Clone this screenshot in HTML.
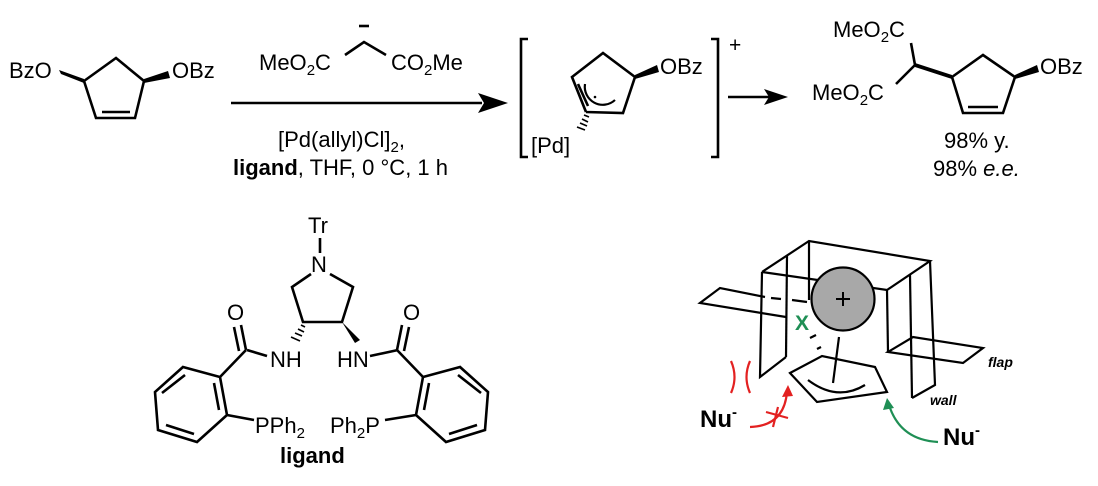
<!DOCTYPE html>
<html><head><meta charset="utf-8"><style>
html,body{margin:0;padding:0;background:#fff}
svg{display:block}
text{font-family:"Liberation Sans",Arial,sans-serif;fill:#000}
</style></head><body>
<svg width="1098" height="486" viewBox="0 0 1098 486" xmlns="http://www.w3.org/2000/svg">
<g stroke="#000" stroke-width="2.6" fill="none" stroke-linejoin="miter" stroke-linecap="butt">
<polyline points="84,81 116,58 144,81 135,118 96,118 84,81"/>
<line x1="102" y1="112" x2="130" y2="112"/>
<line x1="231" y1="103" x2="482" y2="103"/>
<polyline points="345,55 364,42 386,55"/>
<line x1="359" y1="26" x2="369" y2="26"/>
<polyline points="528,39 521,39 521,157 528,157"/>
<polyline points="711,39 718,39 718,157 711,157"/>
<polyline points="586,112 572,77 603,53 635,77 623,113 586,112"/>
<line x1="578" y1="84" x2="588" y2="106"/>
<path d="M585,84 A18,18 0 0 0 615,100" stroke-width="2.2"/>
<line x1="728" y1="97" x2="770" y2="97"/>
<line x1="911" y1="43" x2="915" y2="65"/>
<line x1="915" y1="65" x2="896" y2="84"/>
<polyline points="952,77 983,55 1015,77 1003,113 963,113 952,77"/>
<line x1="968" y1="107" x2="998" y2="107"/>
<line x1="320" y1="238" x2="320" y2="253"/>
<polyline points="311,274 292,287 303,322 342,322 353,287 330,274"/>
<line x1="247" y1="350" x2="267" y2="356"/>
<line x1="370" y1="356" x2="398" y2="350"/>
<line x1="246" y1="350" x2="241" y2="325"/>
<line x1="239" y1="351" x2="234" y2="327"/>
<line x1="220" y1="377" x2="246" y2="350"/>
<polygon points="183,367 220,377 227,415 197,442 158,430 155,392"/>
<line x1="162" y1="393" x2="185" y2="375"/>
<line x1="214" y1="383" x2="219" y2="410"/>
<line x1="166" y1="425" x2="194" y2="434"/>
<line x1="227" y1="415" x2="254" y2="420"/>
<g transform="translate(643,0) scale(-1,1)">
<line x1="246" y1="350" x2="241" y2="325"/>
<line x1="239" y1="351" x2="234" y2="327"/>
<line x1="220" y1="377" x2="246" y2="350"/>
<polygon points="183,367 220,377 227,415 197,442 158,430 155,392"/>
<line x1="162" y1="393" x2="185" y2="375"/>
<line x1="214" y1="383" x2="219" y2="410"/>
<line x1="166" y1="425" x2="194" y2="434"/>
<line x1="227" y1="415" x2="258" y2="420"/>
</g>
<g stroke-width="2.2">
<polyline points="762,272 809,241 930,261 887,290 762,272"/>
<polyline points="762,272 760,377 786,357"/>
<line x1="787" y1="256" x2="786" y2="357"/>
<line x1="809" y1="241" x2="809" y2="300"/>
<polyline points="765,297 720,288 700,303 786,317"/>
<line x1="771" y1="298" x2="781" y2="299"/>
<line x1="792" y1="300" x2="807" y2="302"/>
<line x1="887" y1="290" x2="888" y2="352"/>
<line x1="910" y1="275" x2="912" y2="398"/>
<polyline points="930,261 935,385 912,398"/>
<polygon points="888,352 913,337 983,348 963,363"/>
<line x1="839" y1="337" x2="833" y2="383"/>
<polygon points="790,373 822,356 875,367 887,392 817,402"/>
<path d="M808,380 Q837,402 865,385"/>
<line x1="810" y1="338" x2="816" y2="335"/>
<line x1="817" y1="349" x2="821" y2="347"/>
</g>
</g>
<circle cx="843" cy="299" r="31.5" fill="#a8a8a8" stroke="#000" stroke-width="2.2"/>
<line x1="836" y1="299" x2="850" y2="299" stroke="#000" stroke-width="2"/>
<line x1="843" y1="292" x2="843" y2="306" stroke="#000" stroke-width="2"/>
<g fill="#000" stroke="none">
<polygon points="61,74 59,70 84,79 84,83"/>
<polygon points="144,79 144,83 170,78 168,71"/>
<polygon points="508,103 478,93 484,103 478,113"/>
<polygon points="635,75 635,79 659,72 657,65"/>
<polygon points="788,97 764,89 769,97 764,105"/>
<polygon points="915,63 915,67 952,79 952,75"/>
<polygon points="1015,75 1015,79 1039,72 1037,65"/>
<polygon points="342,322 355,343 360,340"/>
</g>
<g stroke="#000" stroke-width="1.6">
<line x1="584" y1="115" x2="589" y2="117"/>
<line x1="582" y1="119" x2="588" y2="122"/>
<line x1="580" y1="123" x2="587" y2="126"/>
<line x1="577" y1="127" x2="585" y2="130"/>
<line x1="301" y1="325" x2="305" y2="327"/>
<line x1="298" y1="329" x2="304" y2="332"/>
<line x1="295" y1="333" x2="302" y2="336"/>
<line x1="291" y1="337" x2="300" y2="341"/>
</g>
<circle cx="595" cy="97" r="1.3" fill="#000"/>
<g fill="none" stroke="#e32121" stroke-width="2.2">
<path d="M731,361 Q738,377 731,393"/>
<path d="M750,361 Q743,377 750,393"/>
<path d="M750,427 Q784,426 787,392"/>
<line x1="766" y1="412" x2="788" y2="418"/>
<line x1="778" y1="407" x2="773" y2="427"/>
</g>
<polygon points="788,385 782,397 793,396" fill="#e32121"/>
<path d="M938,442 Q900,440 889,405" fill="none" stroke="#1f8f55" stroke-width="2.2"/>
<polygon points="887,398 883,410 894,408" fill="#1f8f55"/>
<text x="795" y="330" font-size="21" font-weight="bold" style="fill:#1f8f55">X</text>
<g font-size="22">
<text x="9" y="78">BzO</text>
<text x="172" y="78">OBz</text>
<text x="259" y="70">MeO<tspan font-size="15" dy="5">2</tspan><tspan dy="-5">C</tspan></text>
<text x="391" y="70">CO<tspan font-size="15" dy="5">2</tspan><tspan dy="-5">Me</tspan></text>
<text x="278" y="147">[Pd(allyl)Cl]<tspan font-size="15" dy="5">2</tspan><tspan dy="-5">,</tspan></text>
<text x="233" y="175"><tspan font-weight="bold">ligand</tspan>, THF, 0 °C, 1 h</text>
<text x="660" y="74">OBz</text>
<text x="531" y="153">[Pd]</text>
<text x="729" y="52" font-size="21">+</text>
<text x="833" y="37">MeO<tspan font-size="15" dy="5">2</tspan><tspan dy="-5">C</tspan></text>
<text x="812" y="100">MeO<tspan font-size="15" dy="5">2</tspan><tspan dy="-5">C</tspan></text>
<text x="1040" y="74">OBz</text>
<text x="944" y="148">98% y.</text>
<text x="933" y="176">98% <tspan font-style="italic">e.e.</tspan></text>
<text x="308" y="233">Tr</text>
<text x="311" y="272">N</text>
<text x="227" y="320">O</text>
<text x="403" y="320">O</text>
<text x="270" y="367">NH</text>
<text x="337" y="367">HN</text>
<text x="255" y="433">PPh<tspan font-size="15" dy="5">2</tspan></text>
<text x="330" y="433">Ph<tspan font-size="15" dy="5">2</tspan><tspan dy="-5">P</tspan></text>
<text x="280" y="463" font-weight="bold">ligand</text>
</g>
<text x="700" y="427" font-size="24" font-weight="bold">Nu<tspan font-size="15" dy="-10">-</tspan></text>
<text x="943" y="445" font-size="24" font-weight="bold">Nu<tspan font-size="15" dy="-10">-</tspan></text>
<text x="988" y="367" font-size="14" font-weight="bold" font-style="italic">flap</text>
<text x="930" y="405" font-size="14" font-weight="bold" font-style="italic">wall</text>
</svg>
</body></html>
